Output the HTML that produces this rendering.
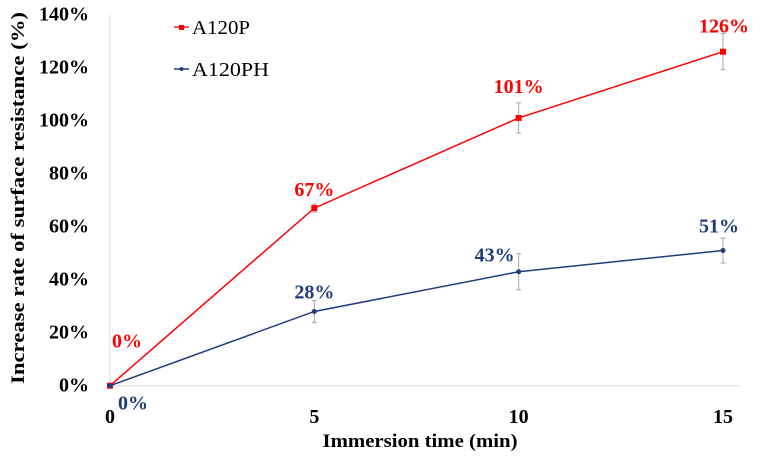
<!DOCTYPE html>
<html><head><meta charset="utf-8"><style>
html,body{margin:0;padding:0;background:#fff;}
svg{display:block;font-family:"Liberation Serif",serif;}
</style></head><body>
<svg id="chart" width="772" height="457" viewBox="0 0 772 457">
<g id="axes"></g><g id="series"></g>
<g>
 <g>
  <line x1="174" y1="27" x2="189" y2="27" stroke="#ff2020" stroke-width="1.5"/>
  <rect x="179" y="25" width="5" height="5" fill="#ff0000"/>
  <text x="192" y="34" font-size="20" textLength="58" lengthAdjust="spacingAndGlyphs" fill="#000">A120P</text>
 </g>
 <g>
  <line x1="174" y1="69" x2="189" y2="69" stroke="#1f3d7a" stroke-width="1.5"/>
  <circle cx="181.5" cy="69" r="2" fill="#1f3d7a"/>
  <text x="192" y="76" font-size="20" textLength="77" lengthAdjust="spacingAndGlyphs" fill="#000">A120PH</text>
 </g>
</g>
<text x="420" y="447" text-anchor="middle" font-size="19" font-weight="bold" textLength="195" lengthAdjust="spacingAndGlyphs">Immersion time (min)</text>
<text transform="translate(24,198) rotate(-90)" text-anchor="middle" font-size="19" font-weight="bold" textLength="372" lengthAdjust="spacingAndGlyphs">Increase rate of surface resistance (%)</text>
</svg>
<script>
const categories=[0,5,10,15];
const yTicks=[0,20,40,60,80,100,120,140];
const seriesA=[0,67,101,126];
const errA=[0,1.5,5.7,6.8];
const seriesB=[0,28,43,51];
const errB=[0,4.2,6.8,4.7];
const labelsA=["0%","67%","101%","126%"];
const labelsB=["0%","28%","43%","51%"];
const NS="http://www.w3.org/2000/svg";
function X(v){return 110+v*(613/15);}
function Y(v){return 385.7-v*2.651;}
function mk(tag,attrs,parent,txt){const e=document.createElementNS(NS,tag);for(const k in attrs)e.setAttribute(k,attrs[k]);if(txt!==undefined)e.textContent=txt;parent.appendChild(e);return e;}
const axes=document.getElementById('axes'),ser=document.getElementById('series');
let a=mk('line',{x1:X(0),y1:Y(140),x2:X(0),y2:Y(0),stroke:'#d9d9d9','stroke-width':1},axes);


a=mk('line',{x1:X(0),y1:Y(0),x2:740,y2:Y(0),stroke:'#d9d9d9','stroke-width':1},axes);


yTicks.forEach(t=>{const e=mk('text',{x:89,y:Y(t)+6,'text-anchor':'end','font-size':20,'font-weight':'bold'},axes,t+'%');

});
categories.forEach(c=>{const e=mk('text',{x:X(c),y:423,'text-anchor':'middle','font-size':20,'font-weight':'bold'},axes,String(c));

});
function draw(vals,errs,labels,color,name,marker,lblOff){
 const g=mk('g',{},ser);
 
 
 vals.forEach((v,i)=>{if(errs[i]>0){const x=X(categories[i]);
  const eb=mk('path',{d:`M${x},${Y(v+errs[i])}V${Y(v-errs[i])}M${x-2.5},${Y(v+errs[i])}H${x+2.5}M${x-2.5},${Y(v-errs[i])}H${x+2.5}`,stroke:'#a6a6a6','stroke-width':1,fill:'none'},g);
  
  }});
 const p=mk('polyline',{points:vals.map((v,i)=>X(categories[i])+','+Y(v)).join(' '),fill:'none',stroke:color,'stroke-width':1.5},g);
 
 
 vals.forEach((v,i)=>{const x=X(categories[i]),y=Y(v);let m;
  if(marker==='sq')m=mk('rect',{x:x-3,y:y-3,width:6,height:6,fill:color},g);else m=mk('circle',{cx:x,cy:y,r:2.5,fill:color},g);
  
  
  const o=lblOff[i];
  const t=mk('text',{x:x+o[0],y:y+o[1],'text-anchor':'middle','font-size':20,'font-weight':'bold',fill:color},g,labels[i]);
  
  });
}
draw(seriesA,errA,labelsA,'#ff0000','a120p','sq',[[17,-38],[0,-12],[0,-25],[1,-19]]);
draw(seriesB,errB,labelsB,'#1f3d7a','a120ph','c',[[23,24],[0,-13],[-24,-10],[-4,-18]]);
</script>
</body></html>
